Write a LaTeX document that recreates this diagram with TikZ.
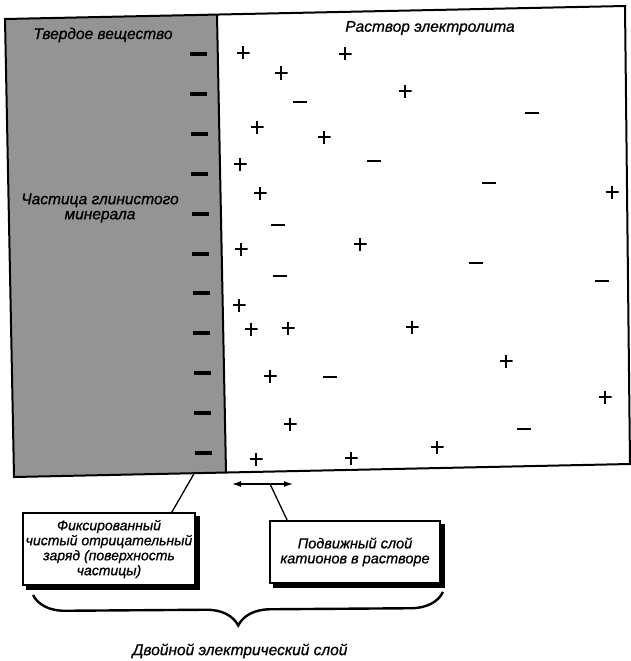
\documentclass[tikz,border=0pt]{standalone}
\usepackage{fontspec}
\setmainfont{Liberation Sans}
\newfontfamily\labelfont{Liberation Sans}[FakeBold=0.8]
\usepackage{tikz}
\usetikzlibrary{positioning,arrows.meta,decorations.pathreplacing}
\definecolor{claygray}{RGB}{148,148,148}

\begin{document}
\begin{tikzpicture}[x=1pt,y=-1pt,
  txt/.style={font=\labelfont\fontsize{15.5}{15}\selectfont\itshape, align=center, inner sep=1pt},
  cation/.style={inner sep=0pt, minimum size=13pt,
    path picture={\draw[line width=1.6pt] (path picture bounding box.north) -- (path picture bounding box.south)
      (path picture bounding box.west) -- (path picture bounding box.east);}},
  anion/.style={inner sep=0pt, minimum width=14pt, minimum height=1.7pt, fill=black},
  surface/.style={inner sep=0pt, minimum width=17pt, minimum height=4pt, fill=black},
  callout/.style={txt, font=\labelfont\fontsize{14.5}{15}\selectfont\itshape, draw, line width=1.6pt,
    fill=white, inner sep=0pt, minimum width=#1, minimum height=62pt},
  callout/.default=170pt,
  shadowbox/.style={line width=4pt, line cap=butt, line join=miter}
]
\useasboundingbox (0,0) rectangle (631,661);

\coordinate (tl) at (5,19);
\coordinate (tr) at (625,6);
\coordinate (br) at (630,464);
\coordinate (bl) at (14,477);
\coordinate (wt) at (217,14.6);
\coordinate (wb) at (226,472.5);

\fill[claygray] (tl) -- (wt) -- (wb) -- (bl) -- cycle;
\draw[line width=2pt] (tl) -- (tr) -- (br) -- (bl) -- cycle;
\draw[line width=2pt] (wt) -- (wb);

\node[txt] (solid) at (103,35) {Твердое вещество};
\node[txt] (clay) at (100,208) {Частица глинистого\\минерала};
\node[txt] (solution) at (430,28) {Раствор электролита};

\foreach \k in {0,...,10}
  \node[surface] (neg\k) at ({198+0.5*\k},{54+39.9*\k}) {};

\foreach \x/\y [count=\i] in {243/53, 345/54, 281/73, 405/91, 257/127, 324/137, 240/164,
    260/193, 612/192, 360/244, 241/249, 239/305, 251/329, 288/328, 412/327, 506/361,
    270/376, 605/397, 290/424, 437/447, 256/459, 351/458}
  \node[cation] (cat\i) at (\x,\y) {};

\foreach \x/\y [count=\i] in {300/102, 532/113, 374/161, 489/183, 278/225, 476/263,
    280/276, 602/281, 330/377, 524/429}
  \node[anion] (an\i) at (\x,\y) {};

\node[callout=172pt, minimum height=72pt, font=\labelfont\fontsize{14}{15}\selectfont\itshape] (fixed) at (109,549)
  {Фиксированный\\чистый отрицательный\\заряд (поверхность\\частицы)};
\node[callout] (mobile) at (355,552) {Подвижный слой\\катионов в растворе};

\foreach \b in {fixed,mobile}
  \draw[shadowbox] ([shift={(2pt,-4pt)}]\b.north east) -- ([shift={(2pt,-2pt)}]\b.south east)
    -- ([shift={(4pt,-2pt)}]\b.south west);

\coordinate (fixTop) at (195,472);
\coordinate (mobL) at (232,484);
\coordinate (mobR) at (293,484);
\coordinate (mobM) at (270,484);
\draw[line width=1.3pt] (fixTop) -- ([xshift=-24pt]fixed.north east);
\draw[line width=1.3pt, {Latex[length=9pt,width=6pt]}-{Latex[length=9pt,width=6pt]}] (mobL) -- (mobR);
\draw[line width=1.3pt] (mobM) -- ([xshift=18pt]mobile.north west);

\coordinate (dlL) at (33,595);
\coordinate (dlR) at (443,592);
\draw[line width=2.4pt, decorate, decoration={brace, mirror, amplitude=32pt}] (dlL) -- (dlR);
\node[txt] (double) at (240,651) {Двойной электрический слой};
\end{tikzpicture}
\end{document}
